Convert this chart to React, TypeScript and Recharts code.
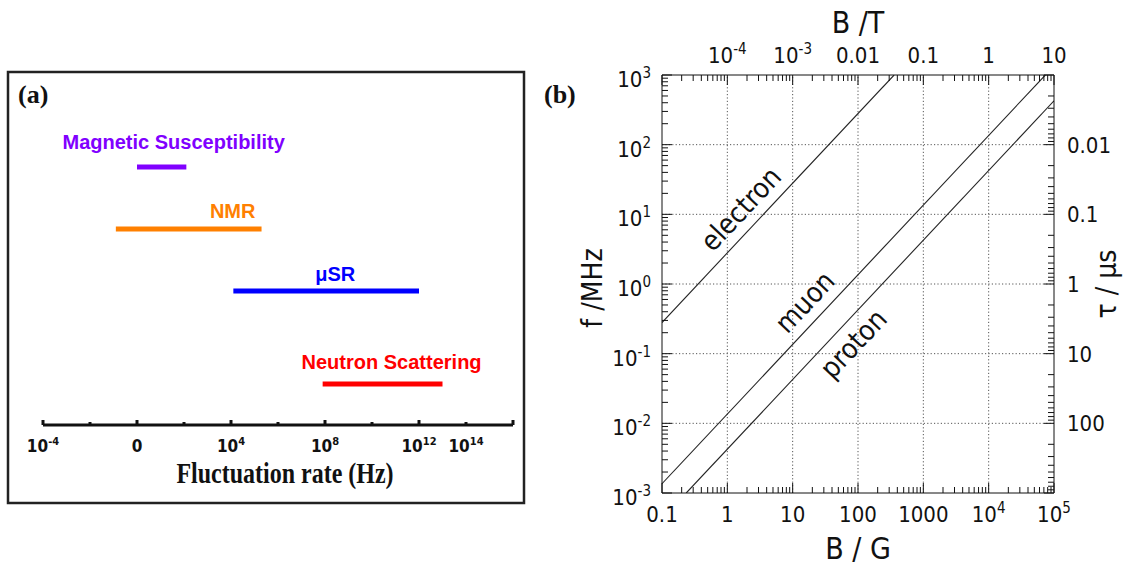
import React from "react";
import { LineChart, Line, XAxis, YAxis, ReferenceLine, ReferenceDot } from "recharts";

const NARROW = "'Liberation Sans Narrow', 'Arial Narrow', 'DejaVu Sans Condensed', 'Liberation Sans', sans-serif";
const SANS = "'Liberation Sans', Arial, sans-serif";
const SERIF = "'Liberation Serif', 'Times New Roman', serif";

// ---------------- Panel (a): fluctuation-rate windows (log10 Hz) ----------------
const techniques = ["Magnetic Susceptibility", "NMR", "\u03bcSR", "Neutron Scattering"];
const rateStart = [0, -0.9, 4.1, 7.9];
const rateEnd = [2.1, 5.3, 12.0, 13.0];
const techniqueLevel = [3.5, 2.5, 1.5, 0];
const techniqueColors = ["#8000ff", "#ff8000", "#0000ff", "#ff0000"];
const rateTicks = [-4, -2, 0, 2, 4, 6, 8, 10, 12, 14, 16];
const rateLabelValues = [-4, 0, 4, 8, 12, 14];
const rateLabels = ["10^-4", "0", "10^4", "10^8", "10^12", "10^14"];

// label offsets (styling, px)
const techLabelDx = [12, 44, 9, 9];
const techLabelDy = [-18, -11, -10, -15];

// ---------------- Panel (b): Larmor frequency vs field ----------------
const particleNames = ["electron", "muon", "proton"];
const electronField = [0.1, 357];
const electronFreq = [0.28, 1000];
const muonField = [0.1, 73800];
const muonFreq = [0.00136, 1000];
const protonField = [0.235, 100000];
const protonFreq = [0.001, 426];
const particleLabelField = [2.7, 25.8, 51.2];
const particleLabelFreq = [7.56, 0.35, 0.218];
const particleLabelSide = [-1, -1, 1];
const GAUSS_PER_TESLA = 1e4;

const fieldGTicks = [0.1, 1, 10, 100, 1000, 1e4, 1e5];
const fieldGLabels = ["0.1", "1", "10", "100", "1000", "10^4", "10^5"];
const fieldTTicks = [1e-5, 1e-4, 1e-3, 0.01, 0.1, 1, 10];
const fieldTLabels = ["", "10^-4", "10^-3", "0.01", "0.1", "1", "10"];
const freqTicks = [1e-3, 1e-2, 1e-1, 1, 10, 100, 1000];
const freqLabels = ["10^-3", "10^-2", "10^-1", "10^0", "10^1", "10^2", "10^3"];
const tauTicks = [1e-3, 1e-2, 1e-1, 1, 10, 100, 1000];
const tauLabels = ["", "0.01", "0.1", "1", "10", "100", ""];

const withMinors = (majors: number[]) => {
  const out: number[] = [];
  majors.forEach((m, i) => {
    out.push(m);
    if (i < majors.length - 1) for (let k = 2; k <= 9; k++) out.push(m * k);
  });
  return out;
};

function PowLabel(p: {
  x: number; y: number; label: string; size: number; anchor: "start" | "middle" | "end";
  family: string; weight?: string | number; fill?: string; raise: number; supSize: number;
}) {
  const parts = p.label.split("^");
  return (
    <text x={p.x} y={p.y} textAnchor={p.anchor} fontSize={p.size} fontFamily={p.family}
      fontWeight={p.weight ?? "normal"} fill={p.fill ?? "#111"}>
      <tspan>{parts[0]}</tspan>
      {parts.length > 1 && <tspan dy={-p.raise} fontSize={p.supSize}>{parts[1]}</tspan>}
    </text>
  );
}

const RateTick = (props: any) => {
  const { x, y, payload } = props;
  const v = payload.value;
  const major = Math.abs(v % 4) === 0;
  const li = rateLabelValues.indexOf(v);
  return (
    <g>
      <line x1={x} x2={x} y1={y} y2={y - (major ? 5 : 3)} stroke="#111" strokeWidth={3} />
      {li >= 0 && (
        <PowLabel x={x} y={y + 27} label={rateLabels[li]} size={17} anchor="middle"
          family={NARROW} weight="bold" raise={7} supSize={11} />
      )}
    </g>
  );
};

const TB = 22; // tick font size panel b
function makeLogTick(side: "bottom" | "top" | "left" | "right", majors: number[], labels: string[]) {
  return (props: any) => {
    const { x, y, payload } = props;
    const v = payload.value;
    const mi = majors.findIndex((m) => Math.abs(v / m - 1) < 1e-6);
    const len = mi >= 0 ? 10 : 6;
    const lab = mi >= 0 ? labels[mi] : "";
    let x2 = x, y2 = y;
    let label: any = null;
    if (side === "bottom") {
      y2 = y - len;
      if (lab) label = <PowLabel x={x} y={y + 29} label={lab} size={TB} anchor="middle" family={NARROW} raise={9} supSize={15} />;
    } else if (side === "top") {
      y2 = y + len;
      if (lab) label = <PowLabel x={x} y={y - 12} label={lab} size={TB} anchor="middle" family={NARROW} raise={9} supSize={15} />;
    } else if (side === "left") {
      x2 = x + len;
      if (lab) label = <PowLabel x={x - 11} y={y + 12} label={lab} size={TB} anchor="end" family={NARROW} raise={9} supSize={15} />;
    } else {
      x2 = x - len;
      if (lab) label = <PowLabel x={x + 13} y={y + 8} label={lab} size={TB} anchor="start" family={NARROW} raise={9} supSize={15} />;
    }
    return (
      <g>
        <line x1={x} y1={y} x2={x2} y2={y2} stroke="#111" strokeWidth={1} />
        {label}
      </g>
    );
  };
}

const BottomTick = makeLogTick("bottom", fieldGTicks, fieldGLabels);
const TopTick = makeLogTick("top", fieldTTicks, fieldTLabels);
const LeftTick = makeLogTick("left", freqTicks, freqLabels);
const RightTick = makeLogTick("right", tauTicks, tauLabels);

export default function App() {
  const techRows = techniques.map((name, i) => ({
    name,
    data: [
      { rate: rateStart[i], level: techniqueLevel[i] },
      { rate: rateEnd[i], level: techniqueLevel[i] },
    ],
  }));
  const particleSeries = [
    { name: particleNames[0], field: electronField, freq: electronFreq },
    { name: particleNames[1], field: muonField, freq: muonFreq },
    { name: particleNames[2], field: protonField, freq: protonFreq },
  ].map((s) => ({
    name: s.name,
    data: s.field.map((b, i) => ({ B: b, T: b / GAUSS_PER_TESLA, f: s.freq[i] })),
  }));

  return (
    <div style={{ position: "absolute", left: 0, top: 0, width: 1128, height: 565, background: "#fff", overflow: "hidden" }}>
      {/* Panel (a) */}
      <div style={{ position: "absolute", left: 0, top: 0 }}>
        <LineChart width={540} height={565} margin={{ top: 100, right: 27, bottom: 0, left: 43 }}>
          <XAxis xAxisId="r" dataKey="rate" type="number" domain={[-4, 16]} ticks={rateTicks} interval={0}
            height={140} allowDataOverflow axisLine={{ stroke: "#111", strokeWidth: 3 }} tickLine={false}
            tickSize={0} tickMargin={0} tick={<RateTick />} />
          <YAxis yAxisId="l" dataKey="level" type="number" domain={[-0.66, 4.58]} hide allowDataOverflow />
          {techRows.map((row, i) => (
            <Line key={row.name} xAxisId="r" yAxisId="l" data={row.data} dataKey="level" stroke={techniqueColors[i]}
              strokeWidth={5} dot={false} activeDot={false} isAnimationActive={false} strokeLinecap="butt" />
          ))}
          {techRows.map((row, i) => (
            <ReferenceDot key={"lab" + i} xAxisId="r" yAxisId="l" x={(rateStart[i] + rateEnd[i]) / 2}
              y={techniqueLevel[i]} r={0} ifOverflow="visible"
              shape={(p: any) => (
                <text x={p.cx + techLabelDx[i]} y={p.cy + techLabelDy[i]} textAnchor="middle" fontSize={20}
                  fontFamily={SANS} fontWeight="bold" fill={techniqueColors[i]}>{row.name}</text>
              )} />
          ))}
        </LineChart>
      </div>

      {/* Panel (b) */}
      <div style={{ position: "absolute", left: 560, top: 0 }}>
        <LineChart width={568} height={565} margin={{ top: 0, right: 0, bottom: 0, left: 0 }}>
          <XAxis xAxisId="G" dataKey="B" orientation="bottom" type="number" scale="log" domain={[0.1, 1e5]}
            ticks={withMinors(fieldGTicks)} interval={0} height={72} allowDataOverflow
            axisLine={{ stroke: "#111" }} tickLine={false} tickSize={0} tickMargin={0} tick={<BottomTick />} />
          <XAxis xAxisId="T" dataKey="T" orientation="top" type="number" scale="log" domain={[1e-5, 10]}
            ticks={withMinors(fieldTTicks)} interval={0} height={75} allowDataOverflow
            axisLine={{ stroke: "#111" }} tickLine={false} tickSize={0} tickMargin={0} tick={<TopTick />} />
          <YAxis yAxisId="f" dataKey="f" orientation="left" type="number" scale="log" domain={[1e-3, 1e3]}
            ticks={withMinors(freqTicks)} interval={0} width={102} allowDataOverflow
            axisLine={{ stroke: "#111" }} tickLine={false} tickSize={0} tickMargin={0} tick={<LeftTick />} />
          <YAxis yAxisId="tau" orientation="right" type="number" scale="log" domain={[1e-3, 1e3]} reversed
            ticks={withMinors(tauTicks)} interval={0} width={74} allowDataOverflow
            axisLine={{ stroke: "#111" }} tickLine={false} tickSize={0} tickMargin={0} tick={<RightTick />} />
          {fieldGTicks.slice(1, -1).map((v) => (
            <ReferenceLine key={"gx" + v} xAxisId="G" yAxisId="f" x={v} stroke="#555" strokeDasharray="1.2 2.2" />
          ))}
          {freqTicks.slice(1, -1).map((v) => (
            <ReferenceLine key={"gy" + v} xAxisId="G" yAxisId="f" y={v} stroke="#555" strokeDasharray="1.2 2.2" />
          ))}
          {particleSeries.map((s) => (
            <Line key={s.name} xAxisId="G" yAxisId="f" data={s.data} dataKey="f" stroke="#222" strokeWidth={1.1}
              dot={false} activeDot={false} isAnimationActive={false} />
          ))}
          {/* same electron line expressed in tesla, bound to the top axis (coincides exactly, drawn invisibly) */}
          <Line xAxisId="T" yAxisId="f" data={particleSeries[0].data} dataKey="f" stroke="none"
            dot={false} activeDot={false} isAnimationActive={false} legendType="none" />
          {particleNames.map((name, i) => (
            <ReferenceDot key={"pl" + i} xAxisId="G" yAxisId="f" x={particleLabelField[i]} y={particleLabelFreq[i]}
              r={0} ifOverflow="visible"
              shape={(p: any) => (
                <text x={p.cx} y={p.cy} dy={particleLabelSide[i] * 20}
                  transform={`rotate(-46.8 ${p.cx} ${p.cy})`} textAnchor="middle" dominantBaseline="central"
                  fontSize={28} fontFamily={NARROW} fill="#111">{name}</text>
              )} />
          ))}
        </LineChart>
      </div>

      {/* Frames, panel tags and axis titles */}
      <svg width={1128} height={565} style={{ position: "absolute", left: 0, top: 0, pointerEvents: "none" }}>
        <rect x={8} y={72} width={516} height={431} fill="none" stroke="#222" strokeWidth={2.5} />
        <text x={18} y={103} fontFamily={SERIF} fontWeight="bold" fontSize={26} fill="#111">(a)</text>
        <text x={544} y={103} fontFamily={SERIF} fontWeight="bold" fontSize={26} fill="#111">(b)</text>
        <text x={285} y={0} textAnchor="middle" fontFamily={SERIF} fontWeight="bold" fontSize={24} fill="#111"
          transform="translate(0 483) scale(1 1.25)">Fluctuation rate (Hz)</text>
        <text x={858} y={33} textAnchor="middle" fontFamily={NARROW} fontSize={30} fill="#111">B /T</text>
        <text x={858} y={559} textAnchor="middle" fontFamily={NARROW} fontSize={30} fill="#111">B / G</text>
        <text x={602} y={288} transform="rotate(-90 602 288)" textAnchor="middle" fontFamily={NARROW} fontSize={28} fill="#111">f /MHz</text>
        <text x={1116} y={284} transform="rotate(-90 1116 284)" textAnchor="middle" fontFamily={NARROW} fontSize={28} fill="#111">{"\u03c4 / \u03bcs"}</text>
      </svg>
    </div>
  );
}
